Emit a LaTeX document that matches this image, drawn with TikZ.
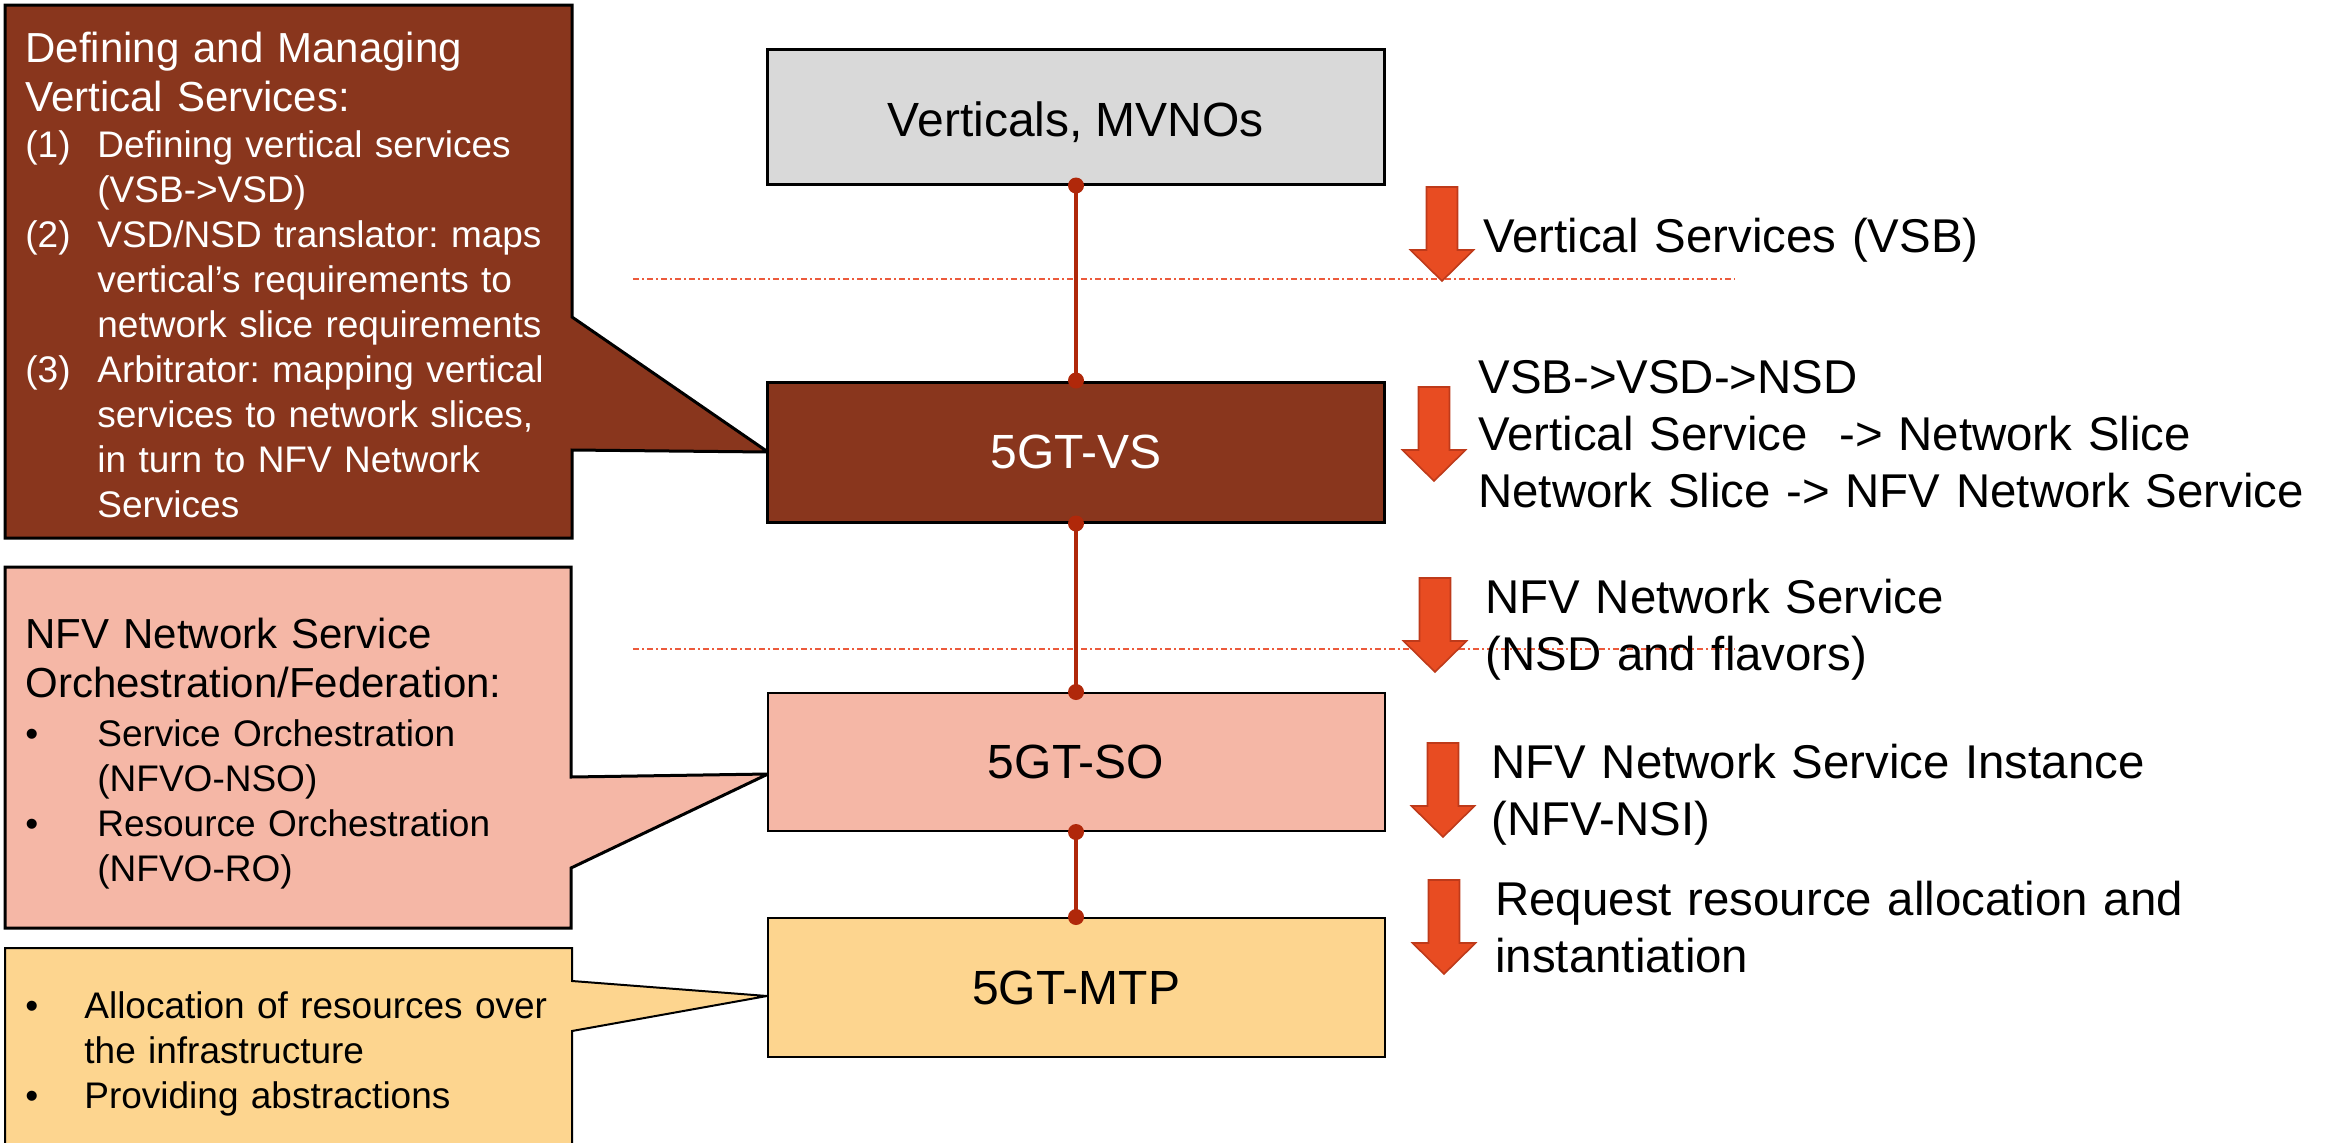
\documentclass[tikz,border=0pt]{standalone}
\usepackage{fontspec}
\setmainfont{Liberation Sans}
\usetikzlibrary{calc}
\definecolor{vsbrown}{RGB}{137,54,29}
\definecolor{sosalmon}{RGB}{245,183,166}
\definecolor{mtpyellow}{RGB}{253,213,143}
\definecolor{vertgrey}{RGB}{217,217,217}
\definecolor{connred}{RGB}{176,40,10}
\definecolor{arrfill}{RGB}{232,76,34}
\definecolor{arredge}{RGB}{190,58,26}
\definecolor{dashred}{RGB}{236,90,60}
\frenchspacing
\begin{document}
\begin{tikzpicture}[x=0.5pt,y=-0.5pt,
 layerbox/.style={draw=black, line width=1.5pt, minimum width=308.5pt, minimum height=69pt, inner sep=0pt, text depth=0pt, font=\fontsize{24}{28}\selectfont},
 conn/.style={draw=connred, line width=2pt},
 dotc/.style={fill=connred},
 sepline/.style={draw=dashred, line width=0.7pt, dash pattern=on 3pt off 1.5pt on 1pt off 1.5pt},
 callout/.style={draw=black, line width=1.5pt},
 headtxt/.style={anchor=base west, inner sep=0pt, text width=290pt, align=left, font=\fontsize{21}{24.5}\selectfont},
 itemtxt/.style={anchor=base west, inner sep=0pt, text width=290pt, align=left, font=\fontsize{18.5}{22.5}\selectfont},
 sidetxt/.style={anchor=base west, inner sep=0pt, text width=430pt, align=left, font=\fontsize{23.7}{28.5}\selectfont},
 downarr/.pic={\filldraw[fill=arrfill, draw=arredge, line width=0.8pt] (-15.5,0) -- (15.5,0) -- (15.5,63) -- (31.5,63) -- (0,94) -- (-31.5,63) -- (-15.5,63) -- cycle;}
]
\useasboundingbox (0,0) rectangle (2326,1142);
\clip (0,0) rectangle (2326,1142);

% callouts
\draw[callout, fill=vsbrown] (5,5) -- (572,5) -- (572,317) -- (768,452) -- (572,450) -- (572,538) -- (5,538) -- cycle;
\draw[callout, fill=sosalmon] (5,567) -- (571,567) -- (571,777) -- (768,774) -- (571,868) -- (571,928) -- (5,928) -- cycle;
\draw[callout, fill=mtpyellow, line width=1pt] (5,948) -- (572,948) -- (572,981) -- (767,996) -- (572,1031) -- (572,1160) -- (5,1160) -- cycle;

% separator lines
\coordinate (s1a) at (633,279);
\coordinate (s1b) at (1735,279);
\coordinate (s2a) at (633,649);
\coordinate (s2b) at (1735,649);
\draw[sepline] (s1a) -- (s1b);
\draw[sepline] (s2a) -- (s2b);

% layer boxes
\node[layerbox, fill=vertgrey, minimum height=67.5pt] (vert) at (1076,116.5) {\raisebox{-2.5pt}{Verticals, MVNOs}};
\node[layerbox, fill=vsbrown, text=white, minimum height=70pt] (vs) at (1076,452) {5GT-VS};
\node[layerbox, fill=sosalmon, minimum height=69pt, line width=1pt] (so) at (1076,762) {5GT-SO};
\node[layerbox, fill=mtpyellow, minimum height=69.5pt, line width=1pt] (mtp) at (1076,987.5) {5GT-MTP};

% connectors
\draw[conn] (vert.south) -- (vs.north);
\draw[conn] (vs.south) -- (so.north);
\draw[conn] (so.south) -- (mtp.north);
\foreach \p in {vert.south, vs.north, vs.south, so.north, so.south, mtp.north}
  \fill[dotc] (\p) circle (4pt);

% arrows
\pic at (1442,187) {downarr};
\pic at (1434,387) {downarr};
\pic at (1435,578) {downarr};
\pic at (1443,743) {downarr};
\pic at (1444,880) {downarr};

% side texts
\node[sidetxt] (t1) at (1483,252) {Vertical Services (VSB)};
\node[sidetxt] (t2) at (1478,393) {VSB->VSD->NSD\\Vertical Service~ -> Network Slice\\Network Slice -> NFV Network Service};
\node[sidetxt] (t3) at (1485,613) {NFV Network Service\\(NSD and flavors)};
\node[sidetxt] (t4) at (1491,778) {NFV Network Service Instance\\(NFV-NSI)};
\node[sidetxt] (t5) at (1495,915) {Request resource allocation and\\instantiation};

% callout texts
\node[headtxt, text=white] (c1head) at (25,62) {Defining and Managing\\Vertical Services:};
\node[itemtxt, text=white] (c1list) at (25,157) {\makebox[36pt][l]{(1)}Defining vertical services\\\hspace*{36pt}(VSB->VSD)\\\makebox[36pt][l]{(2)}VSD/NSD translator: maps\\\hspace*{36pt}vertical’s requirements to\\\hspace*{36pt}network slice requirements\\\makebox[36pt][l]{(3)}Arbitrator: mapping vertical\\\hspace*{36pt}services to network slices,\\\hspace*{36pt}in turn to NFV Network\\\hspace*{36pt}Services};
\node[headtxt] (c2head) at (25,648) {NFV Network Service\\Orchestration/Federation:};
\node[itemtxt] (c2list) at (25,746) {\makebox[36pt][l]{•}Service Orchestration\\\hspace*{36pt}(NFVO-NSO)\\\makebox[36pt][l]{•}Resource Orchestration\\\hspace*{36pt}(NFVO-RO)};
\node[itemtxt] (c3list) at (25,1018) {\makebox[29.5pt][l]{•}Allocation of resources over\\\hspace*{29.5pt}the infrastructure\\\makebox[29.5pt][l]{•}Providing abstractions};
\end{tikzpicture}
\end{document}
